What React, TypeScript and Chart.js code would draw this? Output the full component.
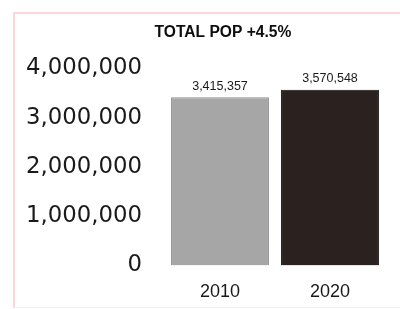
import React, { useEffect, useRef } from "react";
import { Chart, registerables } from "chart.js";

Chart.register(...registerables);

const titleText = "TOTAL POP +4.5%";
const categories = ["2010", "2020"];
const population = [3415357, 3570548];
const barColors = ["#a6a6a6", "#2b211e"];
const barBorderColors = ["#8f8f8f", "#121010"];
const yTicks = [0, 1000000, 2000000, 3000000, 4000000];

const fmt = (v: number) => v.toLocaleString("en-US");

const titlePlugin = {
  id: "customTitle",
  afterDraw(chart: any) {
    const ctx = chart.ctx;
    ctx.save();
    ctx.font = "bold 15.6px 'Liberation Sans', Arial, sans-serif";
    ctx.fillStyle = "#0d0d0d";
    ctx.textAlign = "center";
    ctx.textBaseline = "middle";
    ctx.fillText(titleText, 223, 33);
    ctx.restore();
  },
};

const valueLabelPlugin = {
  id: "valueLabels",
  afterDatasetsDraw(chart: any) {
    const ctx = chart.ctx;
    const meta = chart.getDatasetMeta(0);
    ctx.save();
    ctx.font = "12.5px 'Liberation Sans', Arial, sans-serif";
    ctx.fillStyle = "#1a1a1a";
    ctx.textAlign = "center";
    ctx.textBaseline = "middle";
    meta.data.forEach((bar: any, i: number) => {
      ctx.fillText(fmt(population[i]), bar.x, bar.y - 11);
    });
    ctx.restore();
  },
};

export default function App() {
  const canvasRef = useRef<HTMLCanvasElement | null>(null);

  useEffect(() => {
    document.body.style.margin = "0";
    document.body.style.background = "#ffffff";
    if (!canvasRef.current) return;
    const chart = new Chart(canvasRef.current, {
      type: "bar",
      data: {
        labels: categories,
        datasets: [
          {
            data: population,
            backgroundColor: barColors,
            borderColor: barBorderColors,
            borderWidth: 1,
            barPercentage: 0.89,
            categoryPercentage: 1,
          },
        ],
      },
      options: {
        responsive: false,
        animation: false,
        layout: { padding: { top: 68.5, left: 0, right: 15, bottom: 0 } },
        plugins: {
          legend: { display: false },
          title: { display: false },
          tooltip: { enabled: false },
        },
        scales: {
          x: {
            grid: { display: false, drawTicks: false },
            border: { display: false },
            ticks: {
              padding: 16,
              color: "#1a1a1a",
              font: { family: "'Liberation Sans', Arial, sans-serif", size: 18 },
            },
            afterFit: (scale: any) => {
              scale.height = 43.5;
            },
          },
          y: {
            min: 0,
            max: 4000000,
            afterBuildTicks: (scale: any) => {
              scale.ticks = yTicks.map((v) => ({ value: v }));
            },
            grid: { display: false, drawTicks: false },
            border: { display: false },
            ticks: {
              padding: 23,
              color: "#1a1a1a",
              font: { family: "'DejaVu Sans', sans-serif", size: 22.8 },
              callback: (v: any) => fmt(Number(v)),
            },
            afterFit: (scale: any) => {
              scale.width = 165;
            },
          },
        },
      },
      plugins: [titlePlugin, valueLabelPlugin],
    });
    return () => chart.destroy();
  }, []);

  return (
    <div style={{ position: "relative", width: 400, height: 309, background: "#ffffff" }}>
      <canvas ref={canvasRef} width={400} height={309} style={{ position: "absolute", left: 0, top: 0 }} />
      <div
        style={{
          position: "absolute",
          left: 13,
          top: 12,
          width: 385,
          height: 293,
          borderLeft: "2px solid #fbd6da",
          borderTop: "2px solid #fbd6da",
          borderRight: "1px solid #f6eeee",
          borderBottom: "1px solid #f3f0f0",
          pointerEvents: "none",
        }}
      />
    </div>
  );
}
